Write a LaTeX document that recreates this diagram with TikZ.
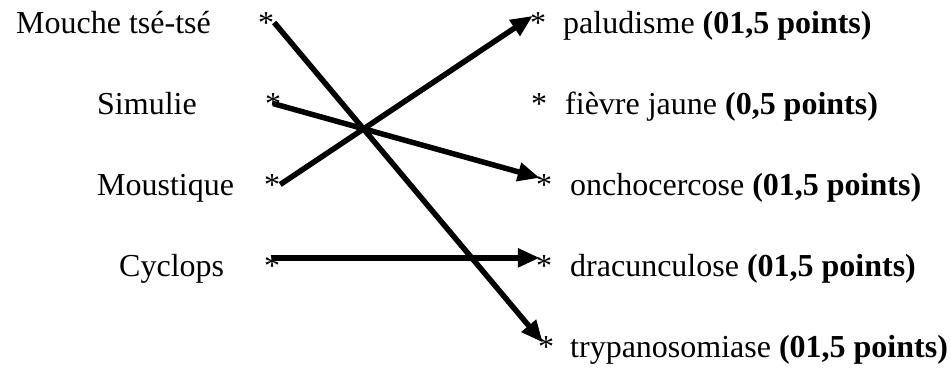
\documentclass[tikz,border=0pt]{standalone}
\usepackage{fontspec}
\setmainfont{Liberation Serif}
\usetikzlibrary{arrows.meta}

\begin{document}
\begin{tikzpicture}[x=1pt, y=-1pt, font=\fontsize{32}{38}\selectfont,
    lab/.style={anchor=base west, inner sep=0pt},
    star/.style={anchor=base, inner sep=0pt},
    fleche/.style={line width=5.5pt, -{Triangle[length=22pt,width=18pt]}}]
        \useasboundingbox (0,0) rectangle (951,372);
        % vecteurs
        \node[lab] (mouche) at (16,33) {Mouche tsé-tsé};
        \node[lab] (simulie) at (97,114) {Simulie};
        \node[lab] (moustique) at (97,195) {Moustique};
        \node[lab] (cyclops) at (119,276) {Cyclops};
        \node[star] (s1) at (266,33) {*};
        \node[star] (s2) at (273,114) {*};
        \node[star] (s3) at (272,195) {*};
        \node[star] (s4) at (272,276) {*};
        % maladies
        \node[star] (r1) at (538,33) {*};
        \node[star] (r2) at (539,114) {*};
        \node[star] (r3) at (544,195) {*};
        \node[star] (r4) at (544,276) {*};
        \node[star] (r5) at (546,357) {*};
        \node[lab] (paludisme) at (563,33) {paludisme \textbf{(01,5 points)}};
        \node[lab] (fievre) at (565,114) {fièvre jaune \textbf{(0,5 points)}};
        \node[lab] (oncho) at (570,195) {onchocercose \textbf{(01,5 points)}};
        \node[lab] (dracun) at (570,276) {dracunculose \textbf{(01,5 points)}};
        \node[lab] (trypano) at (570,357) {trypanosomiase \textbf{(01,5 points)}};
        % liaisons
        \draw[fleche] (s1.east) -- ([xshift=5pt,yshift=4pt]r5.west);
        \draw[fleche] (s2.center) -- ([xshift=4pt,yshift=-4pt]r3.north west);
        \draw[fleche] (s3.east) -- ([xshift=3pt,yshift=-4pt]r1.north west);
        \draw[fleche] ([yshift=-3pt]s4.north) -- ([xshift=4pt,yshift=-3pt]r4.north west);
      \end{tikzpicture}
\end{document}
